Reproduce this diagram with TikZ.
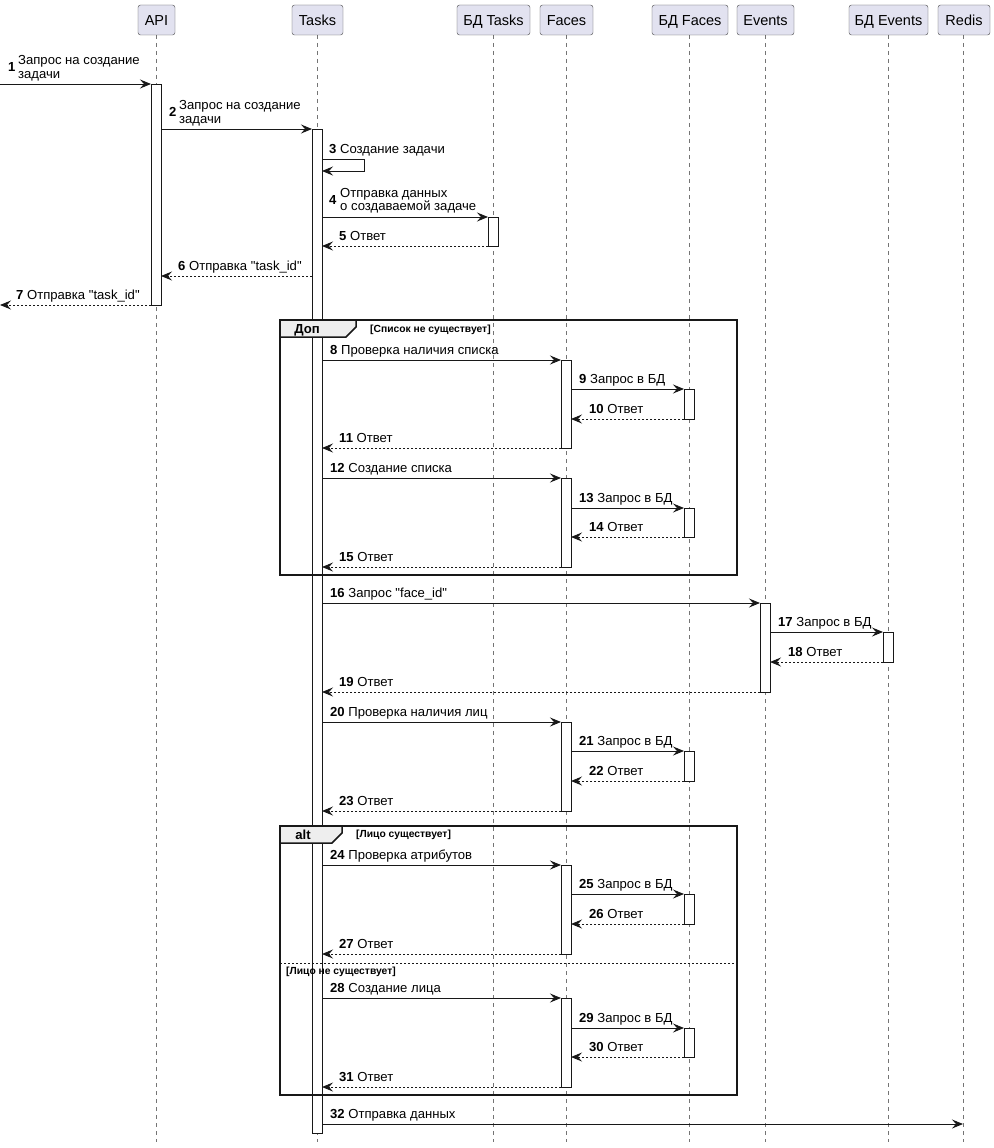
\documentclass[tikz,border=0pt]{standalone}
\usepackage{fontspec}
\setmainfont{Liberation Sans}
\usetikzlibrary{arrows.meta}
\definecolor{partfill}{HTML}{E2E2F0}
\definecolor{ln}{HTML}{181818}
\definecolor{tabfill}{HTML}{EEEEEE}
\newcommand\lab[4]{\node[lbl] (m#3) at (#2,#1-6) {\textbf{#3} #4};}
\newcommand\qq{\textquotedbl}
\begin{document}
\begin{tikzpicture}[x=1pt,y=-1pt, font=\fontsize{13.1}{14}\selectfont,
 part/.style={draw=ln!80, fill=partfill, rounded corners=2.5pt, minimum height=30pt, inner sep=0pt, font=\fontsize{14.5}{16}\selectfont},
 life/.style={draw=ln!60, dash pattern=on 4pt off 4pt, line width=0.5pt},
 act/.style={draw=ln, fill=white, line width=0.8pt},
 tip/.style={-{Stealth[length=11pt,width=9pt,inset=4pt]}},
 sync/.style={draw=ln, line width=0.9pt, tip},
 ret/.style={draw=ln, line width=0.9pt, dash pattern=on 2pt off 2pt, tip},
 lbl/.style={anchor=base west, inner sep=0pt},
 frame/.style={draw=ln, line width=1.5pt},
 cond/.style={anchor=base west, inner sep=0pt, font=\bfseries\fontsize{10.3}{12}\selectfont},
]
\useasboundingbox (0,0) rectangle (993,1148);
% lifelines
\foreach \x in {156,317,493,566,689,765,888,963} \draw[life] (\x,35) -- (\x,1142);
% participants
\begin{scope}[every node/.append style={text height=10.4pt, text depth=0pt}]
\node[part, minimum width=37pt] (api) at (156.5,20) {API};
\node[part, minimum width=51pt] (tasks) at (317.5,20) {Tasks};
\node[part, minimum width=73pt] (dbtasks) at (493.5,20) {БД Tasks};
\node[part, minimum width=53pt] (faces) at (566.5,20) {Faces};
\node[part, minimum width=76pt] (dbfaces) at (690,20) {БД Faces};
\node[part, minimum width=57pt] (events) at (765.5,20) {Events};
\node[part, minimum width=79pt] (dbevents) at (888.5,20) {БД Events};
\node[part, minimum width=52pt] (redis) at (964,20) {Redis};
\end{scope}
% activation bars
\draw[act] (151,84) rectangle (161,305);
\draw[act] (312,129) rectangle (322,1133);
\draw[act] (488,217) rectangle (498,246);
\foreach \a/\b in {360/448,478/567,722/811,865/954,998/1087} \draw[act] (561,\a) rectangle (571,\b);
\foreach \a/\b in {389/419,508/537,751/781,894/924,1028/1057} \draw[act] (684,\a) rectangle (694,\b);
\draw[act] (760,603) rectangle (770,692);
\draw[act] (883,632) rectangle (893,662);
% frames
\draw[frame] (280,320) rectangle (737,575);
\draw[frame, fill=tabfill] (280,320) -- (356,320) -- (356,327) -- (346,337) -- (280,337) -- cycle;
\node[anchor=base, inner sep=0pt, font=\bfseries\fontsize{13.1}{14}\selectfont] (tabopt) at (307,333) {Доп};
\node[cond] (c1) at (370,332) {[Список не существует]};
\draw[frame] (280,826) rectangle (737,1095);
\draw[frame, fill=tabfill] (280,826) -- (342,826) -- (342,833) -- (332,843) -- (280,843) -- cycle;
\node[anchor=base, inner sep=0pt, font=\bfseries\fontsize{13.1}{14}\selectfont] (tabalt) at (303,839) {alt};
\node[cond] (c2) at (356,837) {[Лицо существует]};
\draw[draw=ln, line width=0.6pt, dash pattern=on 2pt off 2pt] (280,963) -- (737,963);
\node[cond] (c3) at (286,974) {[Лицо не существует]};
% messages
\draw[sync] (0,84) -- (151,84);
\node[anchor=base west, inner sep=0pt, font=\bfseries\fontsize{13.1}{14}\selectfont] (m1) at (8,71.5) {1};
\node[lbl] (m1a) at (18,64.5) {Запрос на создание};
\node[lbl] (m1b) at (18,78) {задачи};
\draw[sync] (161,129) -- (312,129);
\node[anchor=base west, inner sep=0pt, font=\bfseries\fontsize{13.1}{14}\selectfont] (m2) at (169,116.5) {2};
\node[lbl] (m2a) at (179,109.5) {Запрос на создание};
\node[lbl] (m2b) at (179,123) {задачи};
\lab{159}{329}{3}{Создание задачи}
\draw[sync] (322,159) -- (364,159) -- (364,171) -- (322,171);
\draw[sync] (322,217) -- (488,217);
\node[anchor=base west, inner sep=0pt, font=\bfseries\fontsize{13.1}{14}\selectfont] (m4) at (329,204.5) {4};
\node[lbl] (m4a) at (340,197) {Отправка данных};
\node[lbl] (m4b) at (340,210.5) {о создаваемой задаче};
\draw[ret] (488,246) -- (322,246); \lab{246}{339}{5}{Ответ}
\draw[ret] (312,276) -- (161,276); \lab{276}{178}{6}{Отправка \qq task\_id\qq}
\draw[ret] (151,305) -- (0,305); \lab{305}{16}{7}{Отправка \qq task\_id\qq}
\draw[sync] (322,360) -- (561,360); \lab{360}{330}{8}{Проверка наличия списка}
\draw[sync] (571,389) -- (684,389); \lab{389}{579}{9}{Запрос в БД}
\draw[ret] (684,419) -- (571,419); \lab{419}{589}{10}{Ответ}
\draw[ret] (561,448) -- (322,448); \lab{448}{339}{11}{Ответ}
\draw[sync] (322,478) -- (561,478); \lab{478}{330}{12}{Создание списка}
\draw[sync] (571,508) -- (684,508); \lab{508}{579}{13}{Запрос в БД}
\draw[ret] (684,537) -- (571,537); \lab{537}{589}{14}{Ответ}
\draw[ret] (561,567) -- (322,567); \lab{567}{339}{15}{Ответ}
\draw[sync] (322,603) -- (760,603); \lab{603}{330}{16}{Запрос \qq face\_id\qq}
\draw[sync] (770,632) -- (883,632); \lab{632}{778}{17}{Запрос в БД}
\draw[ret] (883,662) -- (770,662); \lab{662}{788}{18}{Ответ}
\draw[ret] (760,692) -- (322,692); \lab{692}{339}{19}{Ответ}
\draw[sync] (322,722) -- (561,722); \lab{722}{330}{20}{Проверка наличия лиц}
\draw[sync] (571,751) -- (684,751); \lab{751}{579}{21}{Запрос в БД}
\draw[ret] (684,781) -- (571,781); \lab{781}{589}{22}{Ответ}
\draw[ret] (561,811) -- (322,811); \lab{811}{339}{23}{Ответ}
\draw[sync] (322,865) -- (561,865); \lab{865}{330}{24}{Проверка атрибутов}
\draw[sync] (571,894) -- (684,894); \lab{894}{579}{25}{Запрос в БД}
\draw[ret] (684,924) -- (571,924); \lab{924}{589}{26}{Ответ}
\draw[ret] (561,954) -- (322,954); \lab{954}{339}{27}{Ответ}
\draw[sync] (322,998) -- (561,998); \lab{998}{330}{28}{Создание лица}
\draw[sync] (571,1028) -- (684,1028); \lab{1028}{579}{29}{Запрос в БД}
\draw[ret] (684,1057) -- (571,1057); \lab{1057}{589}{30}{Ответ}
\draw[ret] (561,1087) -- (322,1087); \lab{1087}{339}{31}{Ответ}
\draw[sync] (322,1124) -- (963,1124); \lab{1124}{330}{32}{Отправка данных}
\end{tikzpicture}
\end{document}
